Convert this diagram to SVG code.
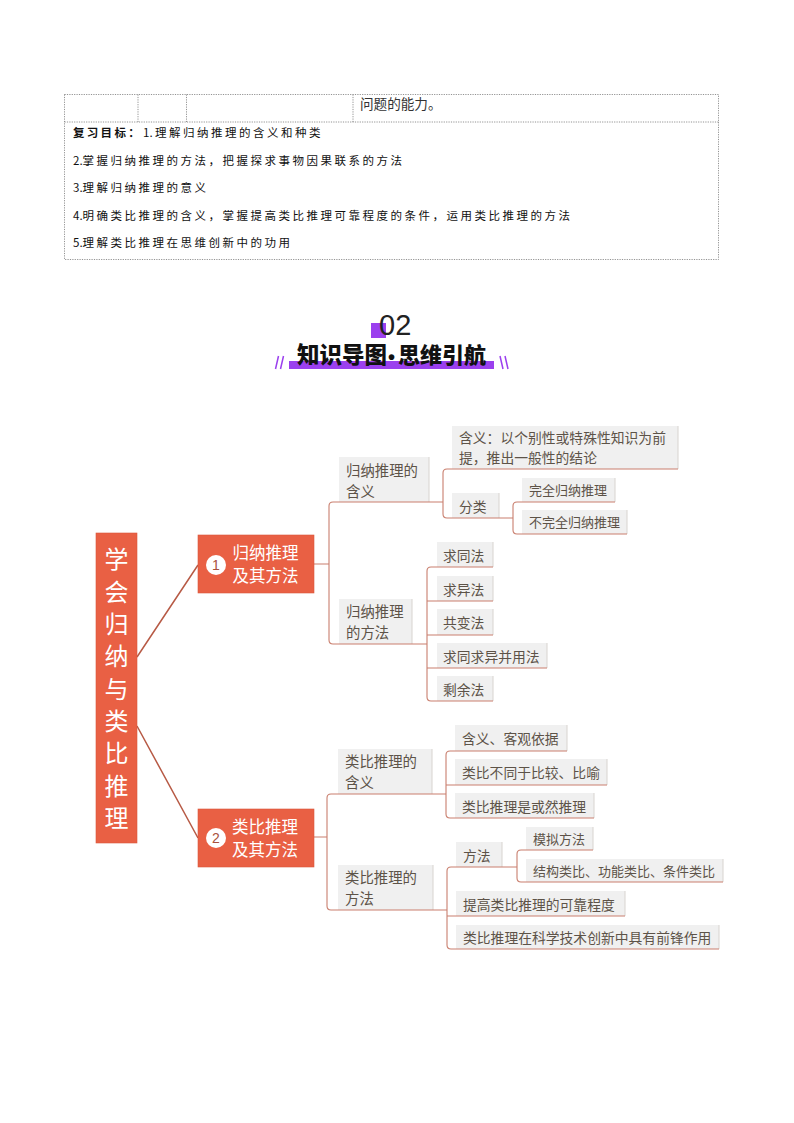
<svg xmlns="http://www.w3.org/2000/svg" width="794" height="1123" viewBox="0 0 794 1123">
<style>
text{font-family:"Noto Sans CJK SC","Noto Sans",sans-serif}
.t{fill:none;stroke:#777;stroke-width:.8;stroke-dasharray:1.2 1.2}
.g{font-size:11.5px;letter-spacing:2.5px;fill:#111}
.d{letter-spacing:0}
.b{fill:#f0f0f0;stroke:none}
.n{font-size:14.4px;fill:#5d5348}
.l{font-size:13.8px;fill:#5d5348}
.q{font-size:13px;fill:#5d5348}
.o{fill:#e96044;stroke:#d9573c;stroke-width:.6}
.w{font-size:16.5px;fill:#fff}
.c{fill:none;stroke:#c97f6e;stroke-width:1.1}
.e{fill:none;stroke:#d8d4d0;stroke-width:1}
.m{fill:none;stroke:#b75a45;stroke-width:1.5}
.p{fill:#9b40ee}
.s{fill:none;stroke:#9b40ee;stroke-width:1.5}
</style>
<rect width="794" height="1123" fill="#fff"/>
<g id="table">
<rect class="t" x="64.5" y="94.5" width="654" height="165"/>
<path class="t" d="M64.5 122H718.5M138 94.5V122M186.500 94.500V122M353 94.500V122"/>
<text x="360" y="109" font-size="13.600" fill="#333">问题的能力。</text>
<text class="g" x="73" y="137"><tspan font-weight="700" letter-spacing="2.300">复习目标：</tspan><tspan class="d" x="143">1.</tspan><tspan x="155">理解归纳推理的含义和种类</tspan></text>
<text class="g" x="73" y="165"><tspan class="d">2.</tspan>掌握归纳推理的方法，把握探求事物因果联系的方法</text>
<text class="g" x="73" y="192"><tspan class="d">3.</tspan>理解归纳推理的意义</text>
<text class="g" x="73" y="219.500"><tspan class="d">4.</tspan>明确类比推理的含义，掌握提高类比推理可靠程度的条件，运用类比推理的方法</text>
<text class="g" x="73" y="246.500"><tspan class="d">5.</tspan>理解类比推理在思维创新中的功用</text>
</g>
<g id="heading">
<rect class="p" x="371" y="323" width="15" height="15"/>
<text x="379" y="335" font-size="29" fill="#222" style="font-family:'Liberation Sans',sans-serif">02</text>
<rect class="p" x="289" y="361" width="205" height="8"/>
<text x="297" y="363" font-size="22.500" font-weight="900" fill="#111">知识导图</text>
<text x="388" y="364" font-size="20" font-weight="900" fill="#111" style="font-family:'Liberation Sans',sans-serif">•</text>
<text x="398" y="363" font-size="22" font-weight="900" fill="#111">思维引航</text>
<path class="s" d="M278.500 356L275.500 369M283.500 356L280.500 369M500 356L503 369M505 356L508 369"/>
</g>
<g id="nodes-bg">
<g id="a1"><rect class="b" x="339" y="457" width="90" height="45"/><text class="n" x="346" y="475.500">归纳推理的</text><text class="n" x="346" y="496.500">含义</text></g>
<g id="a2"><rect class="b" x="452" y="426" width="226" height="43"/><text class="l" x="459" y="443">含义：以个别性或特殊性知识为前</text><text class="l" x="459" y="463">提，推出一般性的结论</text></g>
<g id="a3"><rect class="b" x="452" y="493" width="47" height="25"/><text class="l" x="459" y="512">分类</text></g>
<g id="a4"><rect class="b" x="522" y="478" width="93" height="24"/><text class="q" x="529" y="495">完全归纳推理</text></g>
<g id="a5"><rect class="b" x="522" y="510" width="105" height="24"/><text class="q" x="529" y="527">不完全归纳推理</text></g>
<g id="b1"><rect class="b" x="339" y="599" width="73" height="45"/><text class="n" x="346" y="617">归纳推理</text><text class="n" x="346" y="638">的方法</text></g>
<g id="b2"><rect class="b" x="437" y="542" width="56" height="25"/><text class="l" x="443" y="561">求同法</text></g>
<g id="b3"><rect class="b" x="437" y="576" width="56" height="25"/><text class="l" x="443" y="595">求异法</text></g>
<g id="b4"><rect class="b" x="437" y="609" width="56" height="26"/><text class="l" x="443" y="628">共变法</text></g>
<g id="b5"><rect class="b" x="437" y="643" width="110" height="25"/><text class="l" x="443" y="662">求同求异并用法</text></g>
<g id="b6"><rect class="b" x="437" y="676" width="56" height="25"/><text class="l" x="443" y="695">剩余法</text></g>
<g id="c1"><rect class="b" x="338" y="749" width="94" height="45"/><text class="n" x="345" y="767">类比推理的</text><text class="n" x="345" y="788">含义</text></g>
<g id="c2"><rect class="b" x="455" y="725" width="112" height="26"/><text class="l" x="462" y="744">含义、客观依据</text></g>
<g id="c3"><rect class="b" x="455" y="759" width="152" height="26"/><text class="l" x="462" y="778">类比不同于比较、比喻</text></g>
<g id="c4"><rect class="b" x="455" y="793" width="139" height="25"/><text class="l" x="462" y="812">类比推理是或然推理</text></g>
<g id="d1"><rect class="b" x="338" y="865" width="95" height="45"/><text class="n" x="345" y="883">类比推理的</text><text class="n" x="345" y="904">方法</text></g>
<g id="d2"><rect class="b" x="456" y="842" width="46" height="25"/><text class="l" x="463" y="861">方法</text></g>
<g id="d3"><rect class="b" x="526" y="827" width="67" height="23"/><text class="q" x="533" y="843.500">模拟方法</text></g>
<g id="d4"><rect class="b" x="526" y="859" width="197" height="23"/><text class="q" x="533" y="875.500">结构类比、功能类比、条件类比</text></g>
<g id="d5"><rect class="b" x="456" y="891" width="169" height="25"/><text class="l" x="463" y="910">提高类比推理的可靠程度</text></g>
<g id="d6"><rect class="b" x="456" y="925" width="263" height="24"/><text class="l" x="463" y="943">类比推理在科学技术创新中具有前锋作用</text></g>
</g>
<g id="connectors">
<path class="e" d="M429 457V502M678 426V469M499 493V518M615 478V502M627 510V534M412 599V644M493 542V567M493 576V601M493 609V635M547 643V668M493 676V701M432 749V794M567 725V751M607 759V785M594 793V818M433 865V910M502 842V867M593 827V850M723 859V882M625 891V916M719 925V949"/>
<path class="m" d="M137 657L198 565M137 726L198 838"/>
<path class="c" d="M314 564H329M339 502H333Q329 502 329 506V640Q329 644 333 644H339"/>
<path class="c" d="M339 502H429M339 644H412"/>
<path class="c" d="M429 502H443M452 469H447Q443 469 443 473V514Q443 518 447 518H452M452 469H678M452 518H499H513"/>
<path class="c" d="M522 502H517Q513 502 513 506V530Q513 534 517 534H522M522 502H615M522 534H627"/>
<path class="c" d="M412 644H427M437 567H431Q427 567 427 571V697Q427 701 431 701H437M427 601H493M427 635H493M427 668H547M437 567H493M437 701H493"/>
<path class="c" d="M314 837H327M338 794H331Q327 794 327 798V906Q327 910 331 910H338M338 794H432M338 910H433"/>
<path class="c" d="M432 794H446M455 751H450Q446 751 446 755V814Q446 818 450 818H455M455 751H567M446 785H607M455 818H594"/>
<path class="c" d="M433 910H447M456 867H451Q447 867 447 871V945Q447 949 451 949H456M456 867H502H517M447 916H625M456 949H719"/>
<path class="c" d="M526 850H521Q517 850 517 854V878Q517 882 521 882H526M526 850H593M526 882H723"/>
</g>
<g id="root">
<rect class="o" x="96" y="533" width="41" height="310"/>
<g font-size="24" fill="#fff" text-anchor="middle">
<text x="116.500" y="568">学</text><text x="116.500" y="600.500">会</text><text x="116.500" y="633">归</text><text x="116.500" y="665">纳</text><text x="116.500" y="697.500">与</text><text x="116.500" y="730">类</text><text x="116.500" y="762">比</text><text x="116.500" y="794.500">推</text><text x="116.500" y="827">理</text>
</g>
</g>
<g id="n1">
<rect class="o" x="198" y="535" width="116" height="58"/>
<circle cx="216" cy="565" r="10" fill="#fff"/>
<text x="216" y="570" font-size="14" fill="#a9503c" text-anchor="middle" style="font-family:'Liberation Sans',sans-serif">1</text>
<text class="w" x="232.500" y="559">归纳推理</text><text class="w" x="232.500" y="582">及其方法</text>
</g>
<g id="n2">
<rect class="o" x="198" y="809" width="116" height="58"/>
<circle cx="216" cy="838" r="10" fill="#fff"/>
<text x="216" y="843" font-size="14" fill="#a9503c" text-anchor="middle" style="font-family:'Liberation Sans',sans-serif">2</text>
<text class="w" x="232" y="833">类比推理</text><text class="w" x="232" y="856">及其方法</text>
</g>
</svg>
